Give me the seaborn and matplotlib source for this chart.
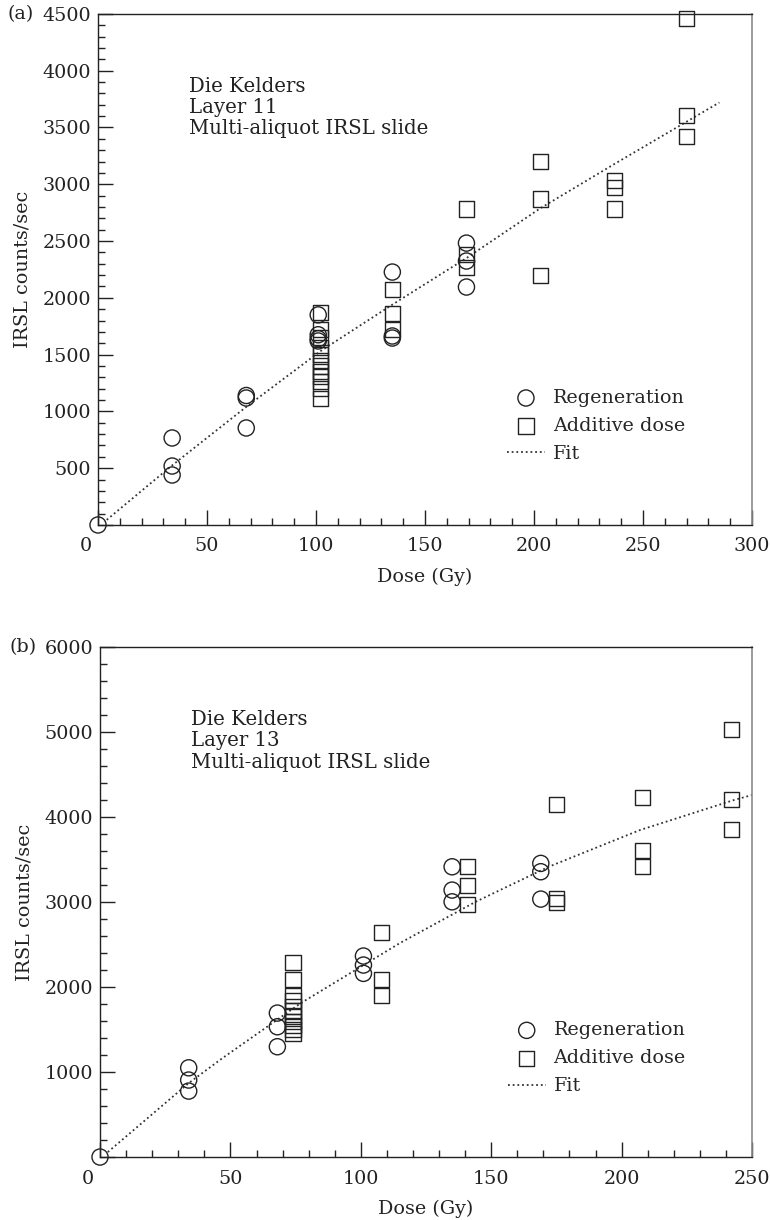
import numpy as np
import pandas as pd
import seaborn as sns
import matplotlib.pyplot as plt
from matplotlib.ticker import MultipleLocator

# Panel (a): Die Kelders, Layer 11
regen_a_dose = [0, 34, 34, 34, 68, 68, 68, 101, 101, 101, 101, 135, 135, 135, 169, 169, 169]
regen_a_counts = [0, 766, 519, 440, 1140, 1118, 854, 1850, 1675, 1640, 1620,
                  2227, 1664, 1646, 2482, 2324, 2095]
add_a_dose = [102] * 12 + [135] * 3 + [169] * 3 + [203] * 3 + [237] * 3 + [270] * 3
add_a_counts = [1870, 1720, 1650, 1560, 1500, 1450, 1400, 1350, 1310, 1260, 1200, 1110,
                2077, 1866, 1725,
                2782, 2380, 2271,
                3204, 2870, 2200,
                3037, 2975, 2782,
                4463, 3609, 3424]
fit_a_dose = [4, 34, 68, 102, 135, 169, 203, 237, 285]
fit_a_counts = [45, 525, 1040, 1530, 1940, 2350, 2790, 3180, 3720]

# Panel (b): Die Kelders, Layer 13
regen_b_dose = [0, 34, 34, 34, 68, 68, 68, 101, 101, 101, 135, 135, 135, 169, 169, 169]
regen_b_counts = [0, 1050, 906, 776, 1694, 1533, 1298, 2365, 2259, 2161,
                  3415, 3141, 3003, 3455, 3357, 3035]
add_b_dose = [74] * 11 + [108] * 3 + [141] * 3 + [175] * 3 + [208] * 3 + [242] * 3
add_b_counts = [2286, 2094, 1906, 1843, 1768, 1718, 1659, 1600, 1553, 1506, 1451,
                2647, 2094, 1906,
                3415, 3192, 2976,
                4153, 3043, 2992,
                4227, 3604, 3415,
                5035, 4212, 3859]
fit_b_dose = [3, 34, 47, 77, 115, 144, 172, 207, 243, 250]
fit_b_counts = [59, 870, 1165, 1811, 2518, 3003, 3415, 3847, 4200, 4259]

panels = [
    dict(tag='(a)', layer='Layer 11', regen=(regen_a_dose, regen_a_counts),
         add=(add_a_dose, add_a_counts), fit=(fit_a_dose, fit_a_counts),
         xmax=300, ymax=4500, rect=[0.1273, 0.5697, 0.8494, 0.4189]),
    dict(tag='(b)', layer='Layer 13', regen=(regen_b_dose, regen_b_counts),
         add=(add_b_dose, add_b_counts), fit=(fit_b_dose, fit_b_counts),
         xmax=250, ymax=6000, rect=[0.1299, 0.0516, 0.8468, 0.4180]),
]

fs = 13.8
sns.set_theme(style='ticks')
plt.rcParams['font.family'] = ['DejaVu Serif']
plt.rcParams.update({'font.size': fs, 'xtick.labelsize': fs, 'ytick.labelsize': fs,
                     'axes.labelsize': fs, 'legend.fontsize': fs})

ink = '#222222'
fig = plt.figure(figsize=(7.7, 12.2), dpi=100)

for p in panels:
    ax = fig.add_axes(p['rect'])
    regen = pd.DataFrame({'dose': p['regen'][0], 'counts': p['regen'][1]})
    add = pd.DataFrame({'dose': p['add'][0], 'counts': p['add'][1]})
    fit = pd.DataFrame({'dose': p['fit'][0], 'counts': p['fit'][1]})

    sns.lineplot(data=fit, x='dose', y='counts', ax=ax, color='#333333',
                 linestyle=(0, (1, 1.6)), linewidth=1.3, sort=False,
                 estimator=None, label='Fit')
    sns.scatterplot(data=regen, x='dose', y='counts', ax=ax, marker='o', s=135,
                    facecolor='none', edgecolor=ink, linewidth=1.0,
                    clip_on=False, label='Regeneration', zorder=3)
    sns.scatterplot(data=add, x='dose', y='counts', ax=ax, marker='s', s=118,
                    facecolor='none', edgecolor=ink, linewidth=1.0,
                    clip_on=False, label='Additive dose', zorder=3)

    ax.set_xlim(0, p['xmax'])
    ax.set_ylim(0, p['ymax'])
    ax.xaxis.set_major_locator(MultipleLocator(50))
    ax.xaxis.set_minor_locator(MultipleLocator(10))
    ax.yaxis.set_major_locator(MultipleLocator(1000 if p['ymax'] > 5000 else 500))
    ax.yaxis.set_minor_locator(MultipleLocator(200 if p['ymax'] > 5000 else 100))

    ax.tick_params(which='both', direction='in', colors=ink, labelcolor=ink,
                   top=False, right=False)
    ax.tick_params(which='major', length=10.5, width=1.0)
    ax.tick_params(which='minor', length=5, width=1.0)
    ax.tick_params(axis='x', pad=9)
    ax.tick_params(axis='y', pad=5)

    # the origin "0" is drawn once, at the corner
    xt = ax.get_xticks()
    ax.set_xticks(xt)
    ax.set_xticklabels(['' if v == 0 else f'{v:.0f}' for v in xt])
    yt = ax.get_yticks()
    ax.set_yticks(yt)
    ax.set_yticklabels(['' if v == 0 else f'{v:.0f}' for v in yt])
    ax.set_xlim(0, p['xmax'])
    ax.set_ylim(0, p['ymax'])
    ax.annotate('0', xy=(0, 0), xycoords='axes fraction', xytext=(-9, -9),
                textcoords='offset points', ha='center', va='top', color=ink)

    for side in ['left', 'bottom', 'top']:
        ax.spines[side].set_color(ink)
        ax.spines[side].set_linewidth(1.0)
    ax.spines['right'].set_color('#8a8a8a')
    ax.spines['right'].set_linewidth(1.2)

    ax.set_xlabel('Dose (Gy)', color=ink, labelpad=9)
    ax.set_ylabel('IRSL counts/sec', color=ink, labelpad=8)

    ax.text(-0.139, 1.0, p['tag'], transform=ax.transAxes, ha='left',
            va='center', color=ink)
    ax.text(0.139, 0.876, 'Die Kelders\n' + p['layer'] + '\nMulti-aliquot IRSL slide',
            transform=ax.transAxes, ha='left', va='top', color=ink,
            linespacing=1.14, fontsize=14.2)

    handles, labels = ax.get_legend_handles_labels()
    order = [labels.index(n) for n in ['Regeneration', 'Additive dose', 'Fit']]
    ax.legend([handles[i] for i in order], [labels[i] for i in order],
              loc='upper left', bbox_to_anchor=(0.625, 0.266), frameon=False,
              borderpad=0, borderaxespad=0, handlelength=2.0,
              handletextpad=0.4, labelspacing=0.52)

plt.savefig('out.png', dpi=100)
